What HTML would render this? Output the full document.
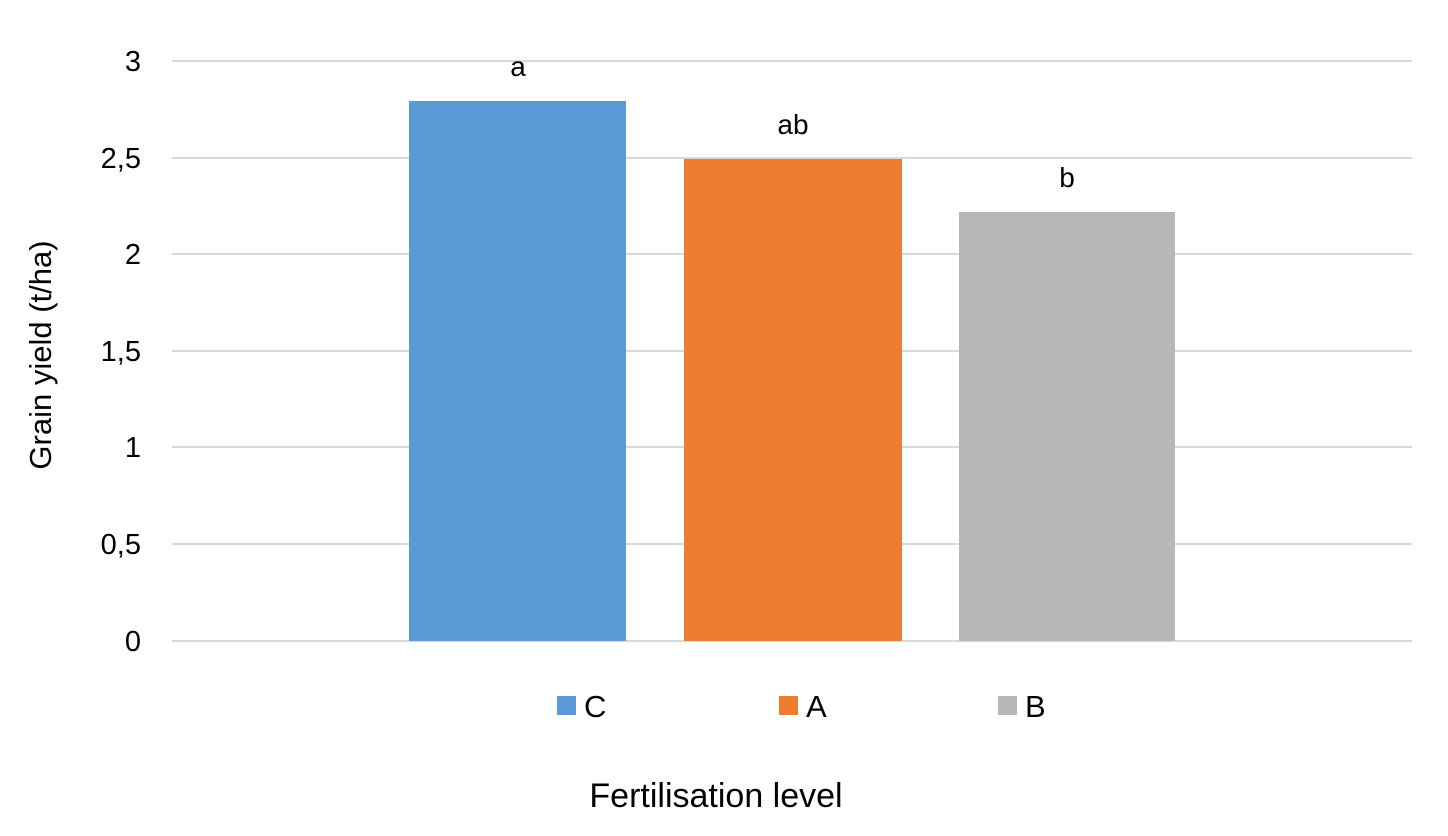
<!DOCTYPE html>
<html><head><style>body{margin:0;background:#fff}</style></head><body>
<svg width="1448" height="831" xmlns="http://www.w3.org/2000/svg" font-family="Liberation Sans, sans-serif">
<g stroke="#d9d9d9" stroke-width="2">
<line x1="172" x2="1412" y1="61" y2="61"/>
<line x1="172" x2="1412" y1="158" y2="158"/>
<line x1="172" x2="1412" y1="254" y2="254"/>
<line x1="172" x2="1412" y1="351" y2="351"/>
<line x1="172" x2="1412" y1="447" y2="447"/>
<line x1="172" x2="1412" y1="544" y2="544"/>
<line x1="172" x2="1412" y1="641" y2="641"/>
</g>
<rect x="409" y="101" width="217" height="540" fill="#5b9bd5"/>
<rect x="684" y="159" width="218" height="482" fill="#ed7d31"/>
<rect x="959" y="212" width="216" height="429" fill="#b7b7b7"/>
<g font-size="28" fill="#000" text-anchor="middle">
<text x="518" y="76">a</text>
<text x="793" y="134">ab</text>
<text x="1067" y="187">b</text>
</g>
<g font-size="29" fill="#000" text-anchor="end">
<text x="141" y="71">3</text>
<text x="141" y="168">2,5</text>
<text x="141" y="264">2</text>
<text x="141" y="361">1,5</text>
<text x="141" y="457">1</text>
<text x="141" y="554">0,5</text>
<text x="141" y="651">0</text>
</g>
<rect x="557" y="696" width="19" height="19" fill="#5b9bd5"/>
<rect x="779" y="696" width="19" height="19" fill="#ed7d31"/>
<rect x="998" y="696" width="19" height="19" fill="#b7b7b7"/>
<g font-size="31" fill="#000">
<text x="584" y="717">C</text>
<text x="806" y="717">A</text>
<text x="1025" y="717">B</text>
</g>
<text x="716" y="807" font-size="34" text-anchor="middle">Fertilisation level</text>
<text transform="translate(51,355) rotate(-90)" font-size="31" text-anchor="middle">Grain yield (t/ha)</text>
</svg>
</body></html>
